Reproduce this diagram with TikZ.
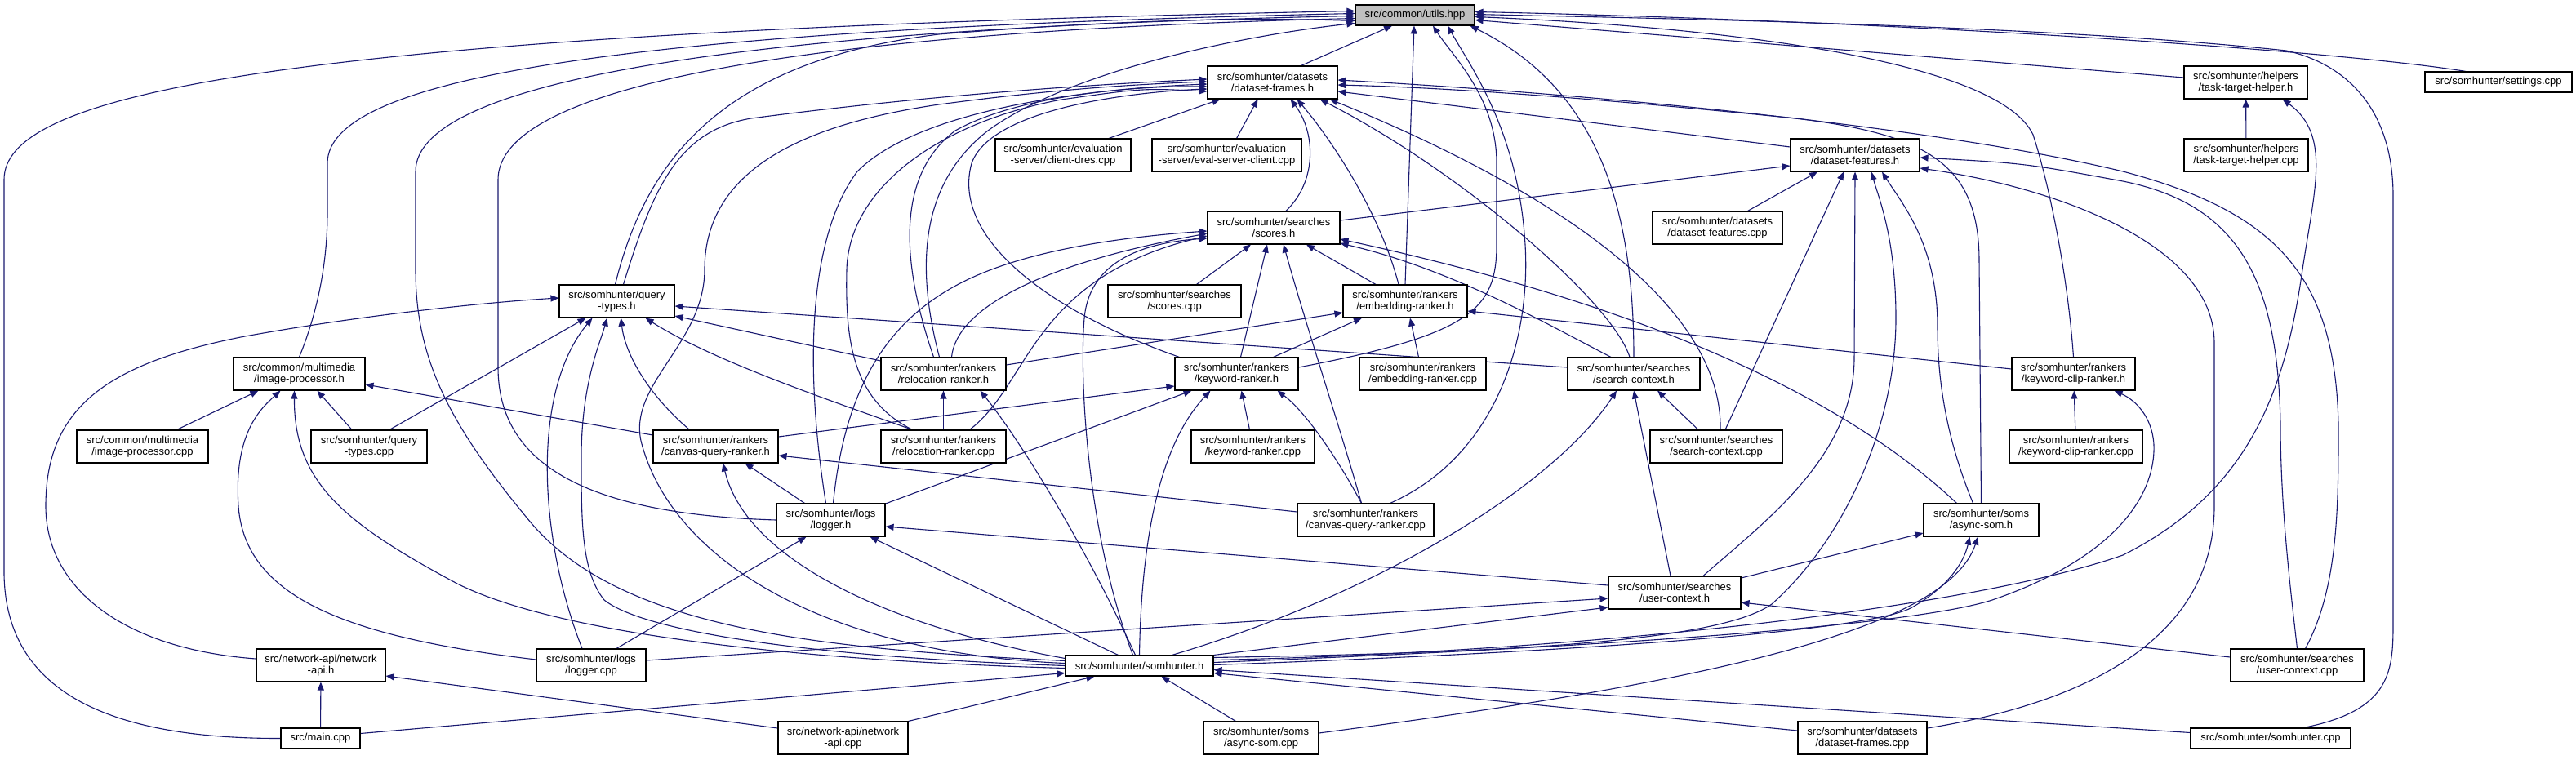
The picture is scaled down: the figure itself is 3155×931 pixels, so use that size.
\documentclass[tikz,border=0pt]{standalone}
\usepackage{fontspec}
\setmainfont{Liberation Sans}
\usetikzlibrary{arrows.meta}
\definecolor{edgec}{HTML}{191970}
\definecolor{ugray}{HTML}{BFBFBF}
\newcommand\dxfont{\fontsize{13}{14.5}\selectfont}
\pgfdeclarelayer{bg}
\pgfsetlayers{bg,main}
\begin{document}
\begin{tikzpicture}[x=1pt,y=-1pt,
  box/.style={draw=black,line width=1.1pt,fill=white,inner sep=0pt,align=center,font=\dxfont,minimum height=40pt},
  sbox/.style={box,minimum height=25pt},
  e/.style={draw=edgec,line width=1.1pt,-{Triangle[length=10pt,width=8pt]}}]
\useasboundingbox (0,0) rectangle (3155,931);
% ---------------- nodes
\node[sbox,fill=ugray,minimum width=146pt] (U) at (1733,18.5) {src/common/utils.hpp};
\node[box,minimum width=159pt] (DF) at (1558.5,101) {src/somhunter/datasets\\/dataset-frames.h};
\node[box,minimum width=151pt] (TTH) at (2750.5,101) {src/somhunter/helpers\\/task-target-helper.h};
\node[sbox,minimum width=180pt] (SET) at (3060,100.5) {src/somhunter/settings.cpp};
\node[box,minimum width=166pt] (CD) at (1302,190) {src/somhunter/evaluation\\-server/client-dres.cpp};
\node[box,minimum width=183pt] (ESC) at (1502.5,190) {src/somhunter/evaluation\\-server/eval-server-client.cpp};
\node[box,minimum width=158pt] (DFeat) at (2272,190) {src/somhunter/datasets\\/dataset-features.h};
\node[box,minimum width=152pt] (TTHc) at (2751,190) {src/somhunter/helpers\\/task-target-helper.cpp};
\node[box,minimum width=162pt] (SCO) at (1560,279) {src/somhunter/searches\\/scores.h};
\node[box,minimum width=159pt] (DFeatc) at (2103.5,279) {src/somhunter/datasets\\/dataset-features.cpp};
\node[box,minimum width=141pt] (QT) at (755.5,369) {src/somhunter/query\\-types.h};
\node[box,minimum width=163pt] (SCOc) at (1438.5,369) {src/somhunter/searches\\/scores.cpp};
\node[box,minimum width=152pt] (ERh) at (1721,369) {src/somhunter/rankers\\/embedding-ranker.h};
\node[box,minimum width=161pt] (IP) at (366.5,458) {src/common/multimedia\\/image-processor.h};
\node[box,minimum width=153pt] (RRh) at (1155.5,458) {src/somhunter/rankers\\/relocation-ranker.h};
\node[box,minimum width=151pt] (KRh) at (1514.5,458) {src/somhunter/rankers\\/keyword-ranker.h};
\node[box,minimum width=155pt] (ERc) at (1742.5,458) {src/somhunter/rankers\\/embedding-ranker.cpp};
\node[box,minimum width=162pt] (SCh) at (2001,458) {src/somhunter/searches\\/search-context.h};
\node[box,minimum width=151pt] (KCRh) at (2539.5,458) {src/somhunter/rankers\\/keyword-clip-ranker.h};
\node[box,minimum width=161pt] (IPc) at (174.5,547) {src/common/multimedia\\/image-processor.cpp};
\node[box,minimum width=142pt] (QTc) at (452,547) {src/somhunter/query\\-types.cpp};
\node[box,minimum width=153pt] (CQRh) at (876.5,547) {src/somhunter/rankers\\/canvas-query-ranker.h};
\node[box,minimum width=153pt] (RRc) at (1155.5,547) {src/somhunter/rankers\\/relocation-ranker.cpp};
\node[box,minimum width=151pt] (KRc) at (1534.5,547) {src/somhunter/rankers\\/keyword-ranker.cpp};
\node[box,minimum width=162pt] (SCc) at (2102,547) {src/somhunter/searches\\/search-context.cpp};
\node[box,minimum width=163pt] (KCRc) at (2542.5,547) {src/somhunter/rankers\\/keyword-clip-ranker.cpp};
\node[box,minimum width=133pt] (LOGh) at (1017.5,637) {src/somhunter/logs\\/logger.h};
\node[box,minimum width=167pt] (CQRc) at (1672.5,637) {src/somhunter/rankers\\/canvas-query-ranker.cpp};
\node[box,minimum width=141pt] (ASh) at (2426.5,637) {src/somhunter/soms\\/async-som.h};
\node[box,minimum width=162pt] (UCh) at (2051,726) {src/somhunter/searches\\/user-context.h};
\node[box,minimum width=158pt] (NAh) at (393,815) {src/network-api/network\\-api.h};
\node[box,minimum width=134pt] (LOGc) at (724,815) {src/somhunter/logs\\/logger.cpp};
\node[sbox,minimum width=181pt] (SHh) at (1395.5,815.5) {src/somhunter/somhunter.h};
\node[box,minimum width=163pt] (UCc) at (2813.5,815) {src/somhunter/searches\\/user-context.cpp};
\node[sbox,minimum width=97pt] (MAIN) at (392.5,904.5) {src/main.cpp};
\node[box,minimum width=159pt] (NAc) at (1032.5,904) {src/network-api/network\\-api.cpp};
\node[box,minimum width=141pt] (ASc) at (1544.5,904) {src/somhunter/soms\\/async-som.cpp};
\node[box,minimum width=158pt] (DFc) at (2281,904) {src/somhunter/datasets\\/dataset-frames.cpp};
\node[sbox,minimum width=196pt] (SHc) at (2781,904.5) {src/somhunter/somhunter.cpp};
% ---------------- edges
\begin{pgfonlayer}{bg}
\fill[white] (0,0) rectangle (3155,931);
% into utils.hpp
\draw[e] ([xshift=35]DF.north) -- ([xshift=-28]U.south);
\draw[e] ([yshift=6]TTH.west) -- ([yshift=-6]U.east);
\draw[e] ([xshift=-40]SET.north) .. controls (2850,60) and (2300,25) .. ([yshift=4]U.east);
\draw[e] ([xshift=40]SHc.north) .. controls (2931,870) and (2931,820) .. (2931,760) -- (2931,240) .. controls (2931,140) and (2880,80) .. (2800,62) .. controls (2500,30) and (2000,22) .. ([yshift=1]U.east);
\draw[e] (KCRh.north) .. controls (2532,330) and (2508,220) .. (2490,165) .. controls (2450,80) and (2150,35) .. ([yshift=-2]U.east);
\draw[e] (SCh.north) .. controls (2001,260) and (1960,110) .. ([xshift=-6]U.south east);
\draw[e] ([xshift=30]CQRc.north) .. controls (1830,560) and (1875,420) .. (1868,300) .. controls (1860,160) and (1800,80) .. ([xshift=40]U.south);
\draw[e] ([yshift=8]KRh.east) .. controls (1800,410) and (1833,380) .. (1833,300) -- (1833,200) .. controls (1833,120) and (1780,70) .. ([xshift=22]U.south);
\draw[e] (ERh.north) -- ([xshift=-1]U.south);
\draw[e] (MAIN.west) .. controls (120,905) and (5,840) .. (5,700) -- (5,220) .. controls (5,120) and (300,40) .. ([yshift=5]U.west);
\draw[e] (IP.north) .. controls (390,380) and (401,320) .. (401,260) -- (401,200) .. controls (401,90) and (800,35) .. ([yshift=2]U.west);
\draw[e] ([yshift=6]SHh.west) .. controls (1000,795) and (760,770) .. (650,640) .. controls (550,520) and (509,440) .. (509,330) -- (509,210) .. controls (509,100) and (900,35) .. ([yshift=-1]U.west);
\draw[e] (LOGh.west) .. controls (720,630) and (610,570) .. (610,450) -- (610,220) .. controls (610,110) and (950,40) .. ([yshift=-4]U.west);
\draw[e] ([xshift=-2]QT.north) .. controls (790,200) and (880,75) .. (1150,42) .. controls (1400,22) and (1550,22) .. ([yshift=-7]U.west);
\draw[e] ([xshift=-5]RRh.north) .. controls (1125,340) and (1120,230) .. (1210,160) .. controls (1320,80) and (1550,40) .. ([yshift=-10]U.west);
% into dataset-frames.h
\draw[e] ([xshift=56]CD.north) -- ([xshift=-64]DF.south);
\draw[e] ([xshift=12]ESC.north) -- ([xshift=-18]DF.south);
\draw[e] ([xshift=15]SCO.north) .. controls (1615,220) and (1610,160) .. ([xshift=22]DF.south);
\draw[e] ([xshift=-8]ERh.north) .. controls (1690,260) and (1630,170) .. ([xshift=30]DF.south);
\draw[e] ([xshift=-5]SCh.north) .. controls (1975,370) and (1790,210) .. ([xshift=58]DF.south);
\draw[e] ([xshift=5]SCc.north) .. controls (2110,380) and (1920,240) .. ([xshift=70]DF.south);
\draw[e] ([yshift=10]DFeat.west) -- ([yshift=-11]DF.east);
\draw[e] (ASh.north) -- (2424,320) .. controls (2424,200) and (2360,165) .. (2200,145) .. controls (2000,125) and (1800,108) .. ([yshift=-3]DF.east);
\draw[e] ([xshift=10]UCc.north) .. controls (2864,720) and (2864,620) .. (2864,520) .. controls (2860,340) and (2790,260) .. (2600,210) .. controls (2350,150) and (1900,112) .. ([yshift=3]DF.east);
\draw[e] ([xshift=8]QT.north) .. controls (800,230) and (830,160) .. (920,145) .. controls (1150,115) and (1350,103) .. ([yshift=4]DF.west);
\draw[e] ([yshift=3]SHh.west) .. controls (1000,800) and (820,680) .. (785,540) .. controls (770,470) and (863,420) .. (863,330) .. controls (863,200) and (1000,150) .. (1150,128) .. controls (1300,108) and (1400,103) .. ([yshift=1]DF.west);
\draw[e] ([xshift=-6]LOGh.north) .. controls (985,450) and (990,290) .. (1050,210) .. controls (1130,130) and (1350,108) .. ([yshift=-2]DF.west);
\draw[e] ([xshift=-12]RRh.north) .. controls (1110,340) and (1090,220) .. (1170,160) .. controls (1250,115) and (1400,105) .. ([yshift=-5]DF.west);
\draw[e] ([xshift=-70]KRh.north) .. controls (1280,380) and (1165,290) .. (1190,200) .. controls (1215,130) and (1400,112) .. ([yshift=-8]DF.west);
\draw[e] ([xshift=-38]RRc.north) .. controls (1045,490) and (1035,420) .. (1037,330) .. controls (1040,230) and (1150,150) .. (1300,122) .. controls (1400,108) .. ([yshift=-11]DF.west);
% into task-target-helper.h
\draw[e] (TTHc) -- (TTH);
\draw[e] ([yshift=7]SHh.east) .. controls (1900,800) and (2400,750) .. (2600,680) .. controls (2760,600) and (2800,470) .. (2820,330) .. controls (2835,230) and (2855,165) .. ([xshift=45]TTH.south);
% into dataset-features.h
\draw[e] ([xshift=37]DFeatc.north) -- ([xshift=-46]DFeat.south);
\draw[e] ([yshift=9]SCO.east) -- ([yshift=-13]DFeat.west);
\draw[e] ([xshift=11]SCc.north) -- ([xshift=-14]DFeat.south);
\draw[e] ([xshift=35]UCh.north) .. controls (2160,640) and (2270,560) .. (2271,440) -- (DFeat.south);
\draw[e] ([yshift=10]SHh.east) .. controls (1800,800) and (2100,790) .. (2170,740) .. controls (2260,660) and (2322,520) .. (2322,390) .. controls (2322,290) and (2300,240) .. ([xshift=20]DFeat.south);
\draw[e] ([xshift=-10]ASh.north) .. controls (2385,540) and (2373,470) .. (2373,400) .. controls (2373,300) and (2330,250) .. ([xshift=33]DFeat.south);
\draw[e] ([yshift=12]DFc.east) .. controls (2560,860) and (2712,780) .. (2712,620) -- (2712,420) .. controls (2712,300) and (2520,230) .. ([yshift=-16]DFeat.east);
\draw[e] (UCc.north) .. controls (2805,720) and (2793,620) .. (2793,520) .. controls (2790,340) and (2740,250) .. (2600,222) .. controls (2480,200) .. ([yshift=-3]DFeat.east);
% into scores.h
\draw[e] ([xshift=27]SCOc.north) -- ([xshift=-28]SCO.south);
\draw[e] ([xshift=5]KRh.north) -- ([xshift=-8]SCO.south);
\draw[e] ([xshift=-5]CQRc.north) .. controls (1640,520) and (1600,400) .. ([xshift=12]SCO.south);
\draw[e] ([xshift=-36]ERh.north) -- ([xshift=40]SCO.south);
\draw[e] ([xshift=-30]ASh.north) .. controls (2230,460) and (1950,360) .. ([yshift=-14]SCO.east);
\draw[e] ([xshift=-28]SCh.north) .. controls (1900,400) and (1780,330) .. ([yshift=-19]SCO.east);
\draw[e] ([xshift=10]RRh.north) .. controls (1170,390) and (1240,330) .. ([yshift=-7]SCO.west);
\draw[e] ([xshift=3]LOGh.north) .. controls (1035,470) and (1090,390) .. (1180,345) .. controls (1260,305) and (1380,290) .. ([yshift=-4]SCO.west);
\draw[e] ([xshift=32]RRc.north) .. controls (1262,470) and (1262,340) .. ([yshift=-10]SCO.west);
\draw[e] ([xshift=-8]SHh.north) .. controls (1330,650) and (1322,460) .. (1328,390) .. controls (1335,310) and (1420,296) .. ([yshift=-13]SCO.west);
% into query-types.h
\draw[e] ([yshift=8]SCh.west) -- ([yshift=-6]QT.east);
\draw[e] ([yshift=16]RRh.west) -- ([yshift=-18]QT.east);
\draw[e] ([xshift=25]QTc.north) -- ([xshift=-38]QT.south);
\draw[e] ([xshift=-11]LOGc.north) .. controls (660,660) and (650,480) .. ([xshift=-30]QT.south);
\draw[e] (SHh.west) .. controls (1000,805) and (790,775) .. (740,735) .. controls (712,700) and (712,640) .. (712,560) .. controls (712,470) and (735,420) .. ([xshift=-12]QT.south);
\draw[e] ([xshift=-32]CQRh.north) .. controls (790,480) and (765,430) .. ([xshift=5]QT.south);
\draw[e] ([xshift=-38]RRc.north) .. controls (1000,485) and (870,440) .. ([xshift=35]QT.south);
\draw[e] ([yshift=8]NAh.west) .. controls (150,795) and (56,720) .. (56,620) .. controls (56,500) and (130,445) .. (300,412) .. controls (450,385) and (600,370) .. ([yshift=4]QT.west);
% into image-processor.h
\draw[e] ([xshift=42]IPc.north) -- ([xshift=-50]IP.south);
\draw[e] ([yshift=7]LOGc.west) .. controls (420,780) and (300,730) .. (292,620) .. controls (286,530) and (320,500) .. ([xshift=-23]IP.south);
\draw[e] ([yshift=-3]SHh.west) .. controls (1000,810) and (690,780) .. (560,715) .. controls (420,640) and (360,590) .. ([xshift=-6]IP.south);
\draw[e] ([xshift=-21]QTc.north) -- ([xshift=22]IP.south);
\draw[e] ([yshift=14]CQRh.west) -- ([yshift=-13]IP.east);
% into embedding-ranker.h
\draw[e] ([yshift=11]RRh.east) -- ([yshift=-14]ERh.west);
\draw[e] ([xshift=45]KRh.north) -- ([xshift=-53]ERh.south);
\draw[e] ([xshift=-5]ERc.north) -- ([xshift=6]ERh.south);
\draw[e] ([yshift=6]KCRh.west) -- ([yshift=-12]ERh.east);
% into relocation-ranker.h
\draw[e] (RRc) -- (RRh);
\draw[e] ([xshift=-5]SHh.north) .. controls (1330,670) and (1250,540) .. ([xshift=45]RRh.south);
% into keyword-ranker.h
\draw[e] ([yshift=12]CQRh.east) -- ([yshift=-15]KRh.west);
\draw[e] ([yshift=20]LOGh.east) -- ([xshift=-55]KRh.south);
\draw[e] (SHh.north) .. controls (1398,660) and (1420,545) .. ([xshift=-32]KRh.south);
\draw[e] ([xshift=-4]KRc.north) -- ([xshift=6]KRh.south);
\draw[e] ([xshift=-5]CQRc.north) .. controls (1640,565) and (1600,505) .. ([xshift=50]KRh.south);
% into search-context.h
\draw[e] ([xshift=-22]SCc.north) -- ([xshift=29]SCh.south);
\draw[e] ([xshift=40]SHh.north) .. controls (1680,730) and (1900,600) .. ([xshift=-21]SCh.south);
\draw[e] ([xshift=-5]UCh.north) -- (SCh.south);
% into keyword-clip-ranker.h
\draw[e] (KCRc) -- (KCRh);
\draw[e] ([yshift=4]SHh.east) .. controls (1900,795) and (2330,770) .. (2440,735) .. controls (2600,680) and (2640,600) .. (2638,545) .. controls (2636,510) and (2615,490) .. ([xshift=50]KCRh.south);
% into canvas-query-ranker.h
\draw[e] ([yshift=10]CQRc.west) -- ([yshift=-11]CQRh.east);
\draw[e] ([xshift=-32]LOGh.north) -- ([xshift=36]CQRh.south);
\draw[e] ([yshift=9]SHh.west) .. controls (1100,770) and (915,690) .. ([xshift=9]CQRh.south);
% into logger.h
\draw[e] ([xshift=31]LOGc.north) -- ([xshift=-30]LOGh.south);
\draw[e] ([xshift=-26]SHh.north) -- ([xshift=48]LOGh.south);
\draw[e] ([yshift=9]UCh.west) -- ([yshift=-8]LOGh.east);
% into async-som.h
\draw[e] ([yshift=18]UCh.east) -- ([yshift=-16]ASh.west);
\draw[e] ([yshift=1]SHh.east) .. controls (1900,800) and (2280,775) .. (2340,745) .. controls (2385,720) and (2405,690) .. ([xshift=-14]ASh.south);
\draw[e] ([yshift=6]ASc.east) .. controls (2100,835) and (2385,770) .. ([xshift=-4]ASh.south);
% into user-context.h
\draw[e] ([yshift=6]LOGc.east) -- ([yshift=-7]UCh.west);
\draw[e] (SHh.north east) -- ([yshift=-18]UCh.west);
\draw[e] ([yshift=10]UCc.west) -- ([yshift=-12]UCh.east);
% into network-api.h
\draw[e] (MAIN) -- (NAh);
\draw[e] ([yshift=12]NAc.west) -- ([yshift=-13]NAh.east);
% into somhunter.h
\draw[e] ([yshift=6]MAIN.east) -- ([yshift=-9]SHh.west);
\draw[e] (NAc.north east) -- ([xshift=-55]SHh.south);
\draw[e] ([xshift=-31]ASc.north) -- ([xshift=27]SHh.south);
\draw[e] ([yshift=9]DFc.west) -- ([yshift=-9]SHh.east);
\draw[e] ([yshift=7]SHc.west) -- ([yshift=-5]SHh.east);
\end{pgfonlayer}
\end{tikzpicture}
\end{document}
